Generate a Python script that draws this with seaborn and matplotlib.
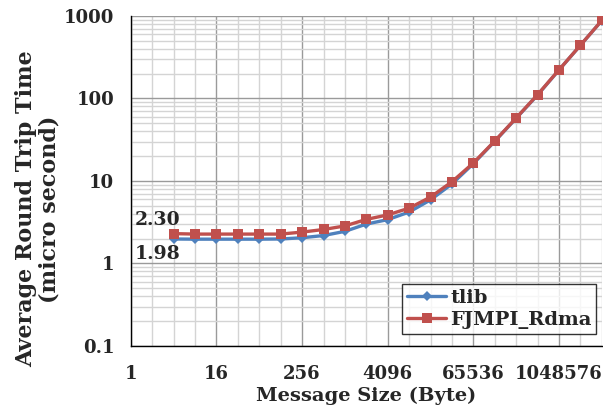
import matplotlib
matplotlib.use("Agg")
import matplotlib.pyplot as plt
import matplotlib.ticker as mticker
import numpy as np
import pandas as pd
import seaborn as sns

# Message sizes in bytes
sizes = [4, 8, 16, 32, 64, 128, 256, 512, 1024, 2048, 4096, 8192, 16384,
         32768, 65536, 131072, 262144, 524288, 1048576, 2097152, 4194304]

# Average round trip time (micro second)
tlib = [1.98, 1.97, 1.97, 1.97, 1.97, 1.98, 2.05, 2.18, 2.45, 3.0, 3.4,
        4.2, 5.9, 9.2, 16.2, 30.2, 57.5, 110, 221, 440, 878]
fjmpi_rdma = [2.30, 2.27, 2.27, 2.27, 2.27, 2.27, 2.40, 2.58, 2.85, 3.42,
              3.88, 4.68, 6.38, 9.78, 16.5, 30.5, 58, 111, 222, 441, 880]

x_ticks = [1, 16, 256, 4096, 65536, 1048576]
y_ticks = [0.1, 1, 10, 100, 1000]
y_tick_labels = ["0.1", "1", "10", "100", "1000"]

df = pd.DataFrame({
    "size": sizes * 2,
    "time": tlib + fjmpi_rdma,
    "series": ["tlib"] * len(sizes) + ["FJMPI_Rdma"] * len(sizes),
})

sns.set_theme(style="white")
plt.rcParams["font.family"] = ["DejaVu Serif"]
plt.rcParams["font.weight"] = "bold"

fig = plt.figure(figsize=(6.03, 4.08), dpi=100)
ax = fig.add_axes([0.217, 0.152, 0.781, 0.809])

blue = "#4F81BD"
red = "#C0504D"

sns.lineplot(data=df[df.series == "tlib"], x="size", y="time", ax=ax,
             color=blue, marker="D", markersize=5.5, markeredgewidth=0,
             linewidth=2.4, label="tlib", zorder=3)
sns.lineplot(data=df[df.series == "FJMPI_Rdma"], x="size", y="time", ax=ax,
             color=red, marker="s", markersize=7.8, markeredgewidth=0,
             linewidth=2.4, label="FJMPI_Rdma", zorder=4)

ax.set_xscale("log", base=2)
ax.set_yscale("log")
ax.set_xlim(1, 2 ** 22)
ax.set_ylim(0.1, 1000)

ax.xaxis.set_major_locator(mticker.FixedLocator(x_ticks))
ax.xaxis.set_major_formatter(mticker.FixedFormatter([str(v) for v in x_ticks]))
ax.xaxis.set_minor_locator(mticker.LogLocator(base=2, subs=[1.0], numticks=40))
ax.xaxis.set_minor_formatter(mticker.NullFormatter())
ax.yaxis.set_major_locator(mticker.FixedLocator(y_ticks))
ax.yaxis.set_major_formatter(mticker.FixedFormatter(y_tick_labels))
ax.yaxis.set_minor_locator(mticker.LogLocator(base=10, subs=np.arange(2, 10), numticks=20))
ax.yaxis.set_minor_formatter(mticker.NullFormatter())

ax.grid(which="major", color="#9a9a9a", linewidth=1.0, zorder=0)
ax.grid(which="minor", color="#d4d4d4", linewidth=1.0, zorder=0)
ax.set_axisbelow(True)

for side in ["top", "right"]:
    ax.spines[side].set_visible(False)
for side in ["left", "bottom"]:
    ax.spines[side].set_color("black")
    ax.spines[side].set_linewidth(1.0)

ax.tick_params(axis="both", which="major", direction="inout", length=8,
               width=1.0, color="black", labelsize=13)
ax.tick_params(axis="x", which="major", pad=10)
ax.tick_params(axis="y", which="major", pad=8)
ax.tick_params(axis="both", which="minor", length=0)
for lbl in ax.get_xticklabels() + ax.get_yticklabels():
    lbl.set_fontweight("bold")

ax.set_xlabel("Message Size (Byte)", fontsize=14, fontweight="bold")
ax.xaxis.set_label_coords(0.5, -0.124)
ax.set_ylabel("Average Round Trip Time\n(micro second)", fontsize=16,
              fontweight="bold", linespacing=1.05)
ax.yaxis.set_label_coords(-0.150, 0.415)

# Value labels for the smallest message size
ax.annotate(f"{fjmpi_rdma[0]:.2f}", (sizes[0], fjmpi_rdma[0]), xytext=(-28, 9.5),
            textcoords="offset points", fontsize=13.5, fontweight="bold",
            ha="left", va="center")
ax.annotate(f"{tlib[0]:.2f}", (sizes[0], tlib[0]), xytext=(-28, -11),
            textcoords="offset points", fontsize=13.5, fontweight="bold",
            ha="left", va="center")

leg = ax.legend(loc="lower right", bbox_to_anchor=(0.997, 0.025), fontsize=14,
                frameon=True, fancybox=False, borderpad=0.25, handlelength=2.0,
                handletextpad=0.2, labelspacing=0.2, borderaxespad=0.2)
leg.get_frame().set_edgecolor("black")
leg.get_frame().set_linewidth(1.0)
for t in leg.get_texts():
    t.set_fontweight("bold")

fig.savefig("out.png", dpi=100)
